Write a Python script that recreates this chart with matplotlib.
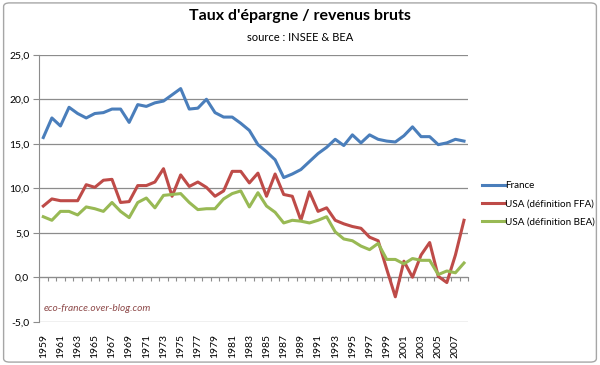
import matplotlib.pyplot as plt
from matplotlib.patches import FancyBboxPatch

plt.rcParams['font.family'] = ['Lato', 'DejaVu Sans']

years = list(range(1959, 2009))
france = [15.7, 17.9, 17.0, 19.1, 18.4, 17.9, 18.4, 18.5, 18.9, 18.9,
          17.4, 19.4, 19.2, 19.6, 19.8, 20.5, 21.2, 18.9, 19.0, 20.0,
          18.5, 18.0, 18.0, 17.3, 16.5, 14.9, 14.1, 13.2, 11.2, 11.6,
          12.1, 13.0, 13.9, 14.6, 15.5, 14.8, 16.0, 15.1, 16.0, 15.5,
          15.3, 15.2, 15.9, 16.9, 15.8, 15.8, 14.9, 15.1, 15.5, 15.3]
usa_ffa = [8.0, 8.8, 8.6, 8.6, 8.6, 10.4, 10.1, 10.9, 11.0, 8.4,
           8.5, 10.3, 10.3, 10.7, 12.2, 9.1, 11.5, 10.2, 10.7, 10.1,
           9.1, 9.7, 11.9, 11.9, 10.6, 11.7, 9.1, 11.6, 9.3, 9.1,
           6.4, 9.6, 7.4, 7.8, 6.4, 6.0, 5.7, 5.5, 4.5, 4.1,
           0.9, -2.2, 1.8, 0.0, 2.5, 3.9, 0.1, -0.6, 2.5, 6.4]
usa_bea = [6.8, 6.4, 7.4, 7.4, 7.0, 7.9, 7.7, 7.4, 8.4, 7.4,
           6.7, 8.4, 8.9, 7.8, 9.2, 9.3, 9.4, 8.4, 7.6, 7.7,
           7.7, 8.8, 9.4, 9.7, 7.9, 9.5, 8.0, 7.3, 6.1, 6.4,
           6.3, 6.1, 6.4, 6.8, 5.1, 4.3, 4.1, 3.5, 3.1, 3.8,
           2.0, 2.0, 1.5, 2.1, 1.9, 1.9, 0.3, 0.7, 0.5, 1.6]
series_names = ["France", "USA (définition FFA)", "USA (définition BEA)"]
colors = ["#4A7EBB", "#BE4B48", "#98B954"]
yticks = [-5, 0, 5, 10, 15, 20, 25]

fig = plt.figure(figsize=(6, 3.65), dpi=100)
ax = fig.add_axes([0.065, 0.1186, 0.7155, 0.7313])

# cadre du graphique
fig.patches.append(FancyBboxPatch((0.006, 0.008), 0.988, 0.984, boxstyle="round,pad=0,rounding_size=0.01",
                                  transform=fig.transFigure, fill=False, edgecolor="#A6A6A6", linewidth=1))

xs = list(range(len(years)))
for data, name, c in zip([france, usa_ffa, usa_bea], series_names, colors):
    ax.plot(xs, data, color=c, linewidth=2.2, label=name, solid_joinstyle="round")

ax.set_xlim(-0.5, len(years) - 0.5)
ax.set_ylim(-5, 25)
ax.set_yticks(yticks)
ax.set_yticklabels([f"{v:.1f}".replace(".", ",") for v in yticks])
ax.yaxis.grid(True, color="#8C8C8C", linewidth=0.9)
ax.set_axisbelow(True)
ax.tick_params(axis="y", length=4, color="#8C8C8C", labelsize=7.5, pad=3)
for s in ["top", "right", "bottom"]:
    ax.spines[s].set_visible(False)
ax.spines["left"].set_color("#8C8C8C")

ax.set_xticks(xs[::2])
ax.set_xticklabels([str(y) for y in years[::2]], rotation=90, fontsize=7.5)
ax.tick_params(axis="x", length=0, pad=9)

# axe horizontal à zéro avec graduations
ax0 = ax.secondary_xaxis(5 / 30)
ax0.set_xticks([x - 0.5 for x in xs] + [xs[-1] + 0.5])
ax0.set_xticklabels([])
ax0.tick_params(length=3, color="#8C8C8C", direction="out")
ax0.spines["bottom"].set_color("#8C8C8C")

fig.text(0.5, 0.955, "Taux d'épargne / revenus bruts", ha="center", va="center",
         fontsize=11.5, fontweight="bold")
fig.text(0.5, 0.897, "source : INSEE & BEA", ha="center", va="center", fontsize=8)
ax.text(0.0, -3.5, "eco-france.over-blog.com", fontsize=7.3, style="italic", color="#8E4A4A",
        va="center")

fig.legend(loc="upper left", bbox_to_anchor=(0.797, 0.515), frameon=False, fontsize=7.1,
           handlelength=2.3, handletextpad=0.05, labelspacing=0.95, borderaxespad=0)

fig.savefig("out.png", dpi=100)
